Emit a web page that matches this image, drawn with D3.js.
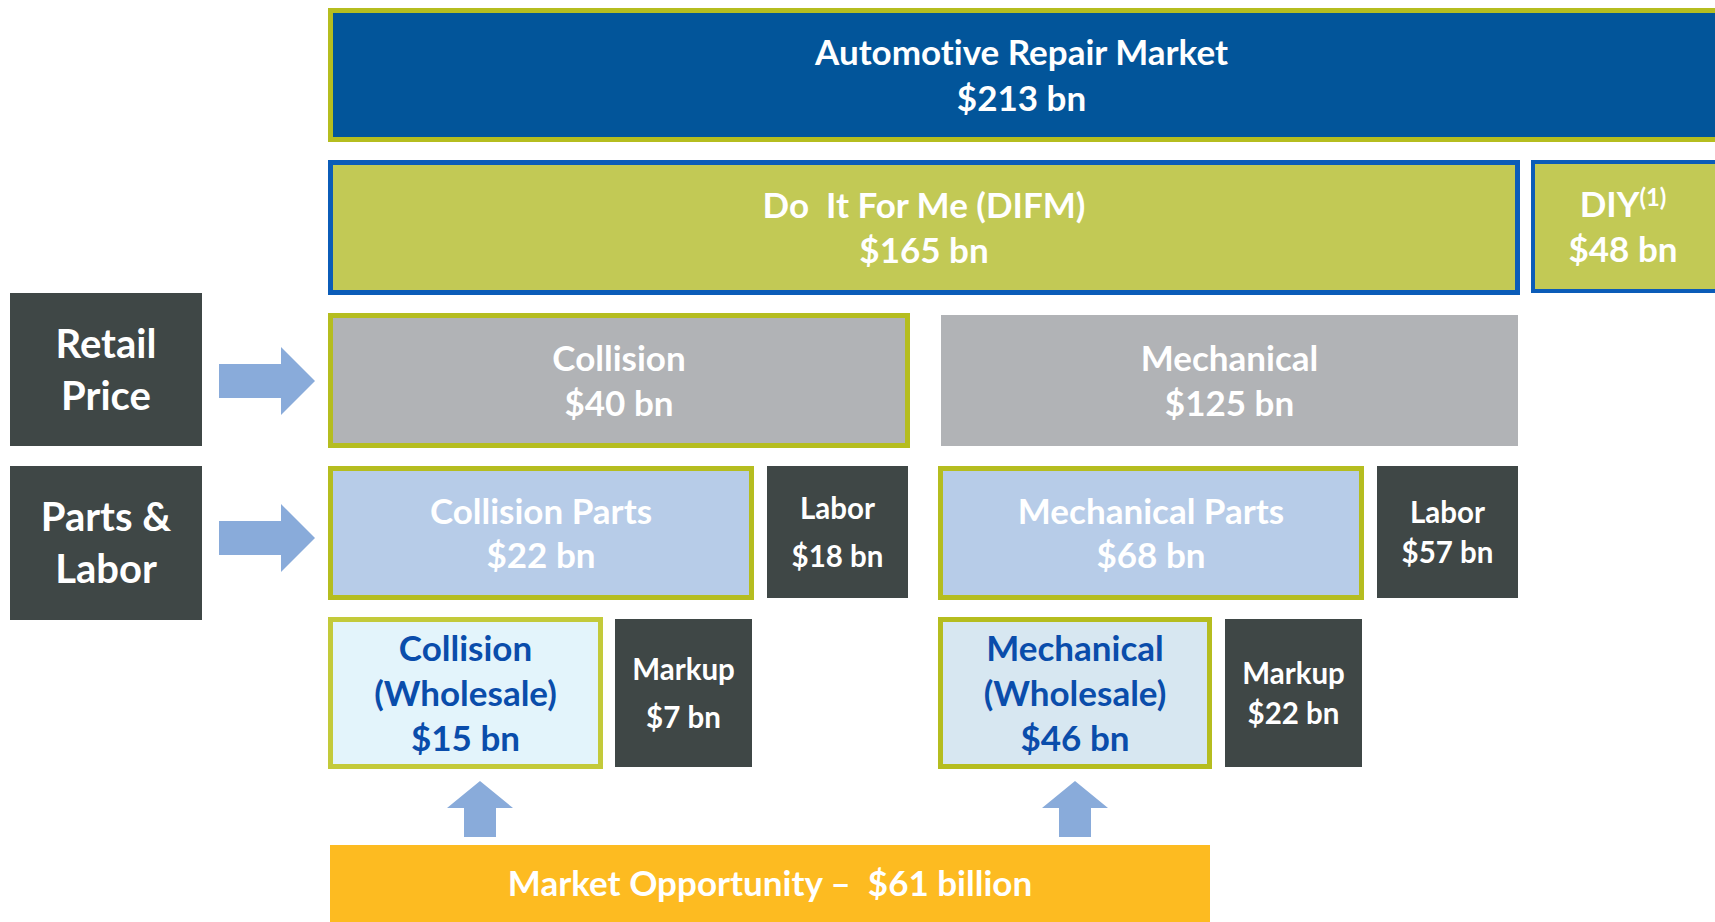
<!DOCTYPE html>
<html>
<head>
<meta charset="utf-8">
<script src="https://cdn.jsdelivr.net/npm/d3@7"></script>
<style>
  body { margin: 0; background: #ffffff; }
  svg text { font-family: Lato, "Open Sans", sans-serif; font-weight: bold; white-space: pre;
             font-variant-ligatures: none; font-feature-settings: "liga" 0; }
</style>
</head>
<body>
<div id="chart"></div>
<script>
// Data: market segments (names and values in $ bn)
var segmentNames = ["Automotive Repair Market", "Do  It For Me (DIFM)", "DIY", "Collision", "Mechanical",
    "Collision Parts", "Labor", "Mechanical Parts", "Labor",
    "Collision|(Wholesale)", "Markup", "Mechanical|(Wholesale)", "Markup"];
var segmentValues = [213, 165, 48, 40, 125, 22, 18, 68, 57, 15, 7, 46, 22];
var rowLabels = ["Retail|Price", "Parts &|Labor"];
var opportunityLabel = "Market Opportunity \u2013  $";
var opportunityValue = 61;

// Layout (outer edges in layout units, mapped through scales)
var boxLayout = [
    [328, 8, 1725, 142], [328, 160, 1520, 295], [1531, 160, 1725, 293],
    [328, 313, 910, 448], [941, 315, 1518, 446],
    [328, 466, 754, 600], [767, 466, 908, 598], [938, 466, 1364, 600], [1377, 466, 1518, 598],
    [328, 617, 603, 769], [615, 619, 752, 767], [938, 617, 1212, 769], [1225, 619, 1362, 767]
];
var boxStyle = [
    "top", "difm", "diy", "retail", "retailPlain",
    "parts", "dark", "parts", "darkTight",
    "wsColl", "dark", "wsMech", "darkTight"
];
var rowLabelLayout = [[10, 293, 202, 446], [10, 466, 202, 620]];
var rightArrowLayout = [[219, 381], [219, 538]];
var upArrowLayout = [480, 1075];
var opportunityLayout = [330, 845, 1210, 922];

var styles = {
    top:         { fill: "#02559a", stroke: "#b5bd1f", sw: 5, color: "#ffffff", size: 35, lh: 46 },
    difm:        { fill: "#c2c955", stroke: "#0b5cb8", sw: 5, color: "#ffffff", size: 35, lh: 45 },
    diy:         { fill: "#c2c955", stroke: "#0b5cb8", sw: 4, color: "#ffffff", size: 35, lh: 45 },
    retail:      { fill: "#b1b3b6", stroke: "#b5bd1f", sw: 5, color: "#ffffff", size: 35, lh: 45 },
    retailPlain: { fill: "#b1b3b6", stroke: "none",    sw: 0, color: "#ffffff", size: 35, lh: 45 },
    parts:       { fill: "#b7cce8", stroke: "#b5bd1f", sw: 5, color: "#ffffff", size: 35, lh: 44 },
    dark:        { fill: "#3f4746", stroke: "none",    sw: 0, color: "#ffffff", size: 29.5, lh: 48 },
    darkTight:   { fill: "#3f4746", stroke: "none",    sw: 0, color: "#ffffff", size: 29.5, lh: 40 },
    wsColl:      { fill: "#e3f4fb", stroke: "#c3ca3a", sw: 5, color: "#0a4dab", size: 35, lh: 45 },
    wsMech:      { fill: "#d7e7f1", stroke: "#b5bd1f", sw: 5, color: "#0a4dab", size: 35, lh: 45 },
    row:         { fill: "#3f4746", stroke: "none",    sw: 0, color: "#ffffff", size: 40, lh: 52 }
};

var width = 1715;
var height = 922;

var x = d3.scaleLinear().domain([0, 1715]).range([0, width]);
var y = d3.scaleLinear().domain([0, 922]).range([0, height]);

var svg = d3.select("#chart")
    .append("svg")
    .attr("width", width)
    .attr("height", height);

function drawBox(g, r, st, lines, supers) {
    var x0 = x(r[0]), y0 = y(r[1]), x1 = x(r[2]), y1 = y(r[3]);
    g.append("rect")
        .attr("x", x0 + st.sw / 2)
        .attr("y", y0 + st.sw / 2)
        .attr("width", x1 - x0 - st.sw)
        .attr("height", y1 - y0 - st.sw)
        .attr("fill", st.fill)
        .attr("stroke", st.stroke)
        .attr("stroke-width", st.sw);

    var cx = (x0 + Math.min(x1, width)) / 2;
    var cy = (y0 + y1) / 2;
    var startY = cy - (lines.length - 1) * st.lh / 2;
    lines.forEach(function(line, i) {
        var t = g.append("text")
            .attr("x", cx)
            .attr("y", startY + i * st.lh)
            .attr("dy", "0.36em")
            .attr("text-anchor", "middle")
            .style("fill", st.color)
            .style("font-size", st.size + "px");
        t.append("tspan").text(line);
        if (supers && supers[i]) {
            t.append("tspan")
                .attr("dy", "-0.45em")
                .style("font-size", (st.size * 0.68) + "px")
                .text(supers[i]);
        }
    });
}

// Segment boxes
segmentNames.forEach(function(name, i) {
    var g = svg.append("g").attr("class", "segment");
    var lines = name.split("|");
    lines.push("$" + segmentValues[i] + " bn");
    var supers = name === "DIY" ? ["(1)"] : null;
    drawBox(g, boxLayout[i], styles[boxStyle[i]], lines, supers);
});

// Row labels on the left
rowLabels.forEach(function(label, i) {
    drawBox(svg.append("g"), rowLabelLayout[i], styles.row, label.split("|"));
});

// Right arrows
var arrowColor = "#89abda";
rightArrowLayout.forEach(function(a) {
    var ax = x(a[0]), ay = y(a[1]);
    var pts = [[ax, ay - 17], [ax + 62, ay - 17], [ax + 62, ay - 34], [ax + 96, ay],
               [ax + 62, ay + 34], [ax + 62, ay + 17], [ax, ay + 17]];
    svg.append("polygon")
        .attr("points", pts.map(function(p) { return p.join(","); }).join(" "))
        .attr("fill", arrowColor);
});

// Up arrows
upArrowLayout.forEach(function(ux) {
    var cx = x(ux), top = y(781), mid = y(808), bot = y(837);
    var pts = [[cx, top], [cx + 33, mid], [cx + 16, mid], [cx + 16, bot],
               [cx - 16, bot], [cx - 16, mid], [cx - 33, mid]];
    svg.append("polygon")
        .attr("points", pts.map(function(p) { return p.join(","); }).join(" "))
        .attr("fill", arrowColor);
});

// Market opportunity bar
drawBox(svg.append("g"), opportunityLayout,
    { fill: "#fdbb21", stroke: "none", sw: 0, color: "#ffffff", size: 35, lh: 40 },
    [opportunityLabel + opportunityValue + " billion"]);
</script>
</body>
</html>
